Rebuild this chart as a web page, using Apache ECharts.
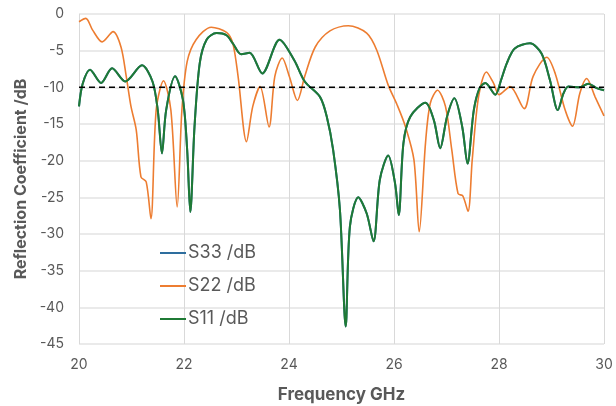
<!DOCTYPE html>
<html>
<head>
<meta charset="utf-8">
<script src="https://cdn.jsdelivr.net/npm/echarts@6/dist/echarts.min.js"></script>
<style>
  html, body { margin: 0; padding: 0; background: #fff; }
  #chart { width: 616px; height: 406px; }
</style>
</head>
<body>
<div id="chart"></div>
<script>
// frequency (GHz) / reflection (dB) pairs
const s22 = [
  [20.0, -1.05], [20.13, -0.6], [20.26, -2.2], [20.44, -3.8], [20.65, -2.4], [20.8, -4.5],
  [20.9, -8.5], [20.99, -12.6], [21.09, -15.8], [21.18, -22.2], [21.28, -22.9], [21.37, -27.9],
  [21.47, -13.1], [21.61, -9.1], [21.75, -13.1], [21.87, -26.3], [21.96, -13.1], [22.06, -6.5],
  [22.23, -3.5], [22.52, -1.8], [22.81, -2.5], [22.93, -4.0], [23.03, -8.5], [23.19, -17.4],
  [23.31, -12.6], [23.45, -9.9], [23.62, -15.4], [23.73, -8.5], [23.87, -6.0], [24.01, -8.6],
  [24.16, -11.8], [24.3, -8.5], [24.5, -4.5], [24.78, -2.3], [25.13, -1.6], [25.48, -2.6],
  [25.67, -4.9], [25.89, -9.7], [26.06, -12.4], [26.22, -15.4], [26.38, -19.9], [26.48, -29.7],
  [26.6, -17.6], [26.69, -12.2], [26.83, -10.4], [26.98, -12.6], [27.1, -18.5], [27.22, -24.5],
  [27.31, -24.8], [27.41, -26.9], [27.49, -19.9], [27.61, -11.3], [27.76, -7.9], [27.9, -9.5],
  [28.0, -11.0], [28.21, -9.9], [28.48, -12.9], [28.65, -8.5], [28.91, -5.9], [29.07, -8.1],
  [29.26, -13.1], [29.4, -15.3], [29.54, -10.8], [29.67, -8.8], [29.83, -11.3], [30.0, -13.9]
];
const s11 = [
  [20.0, -12.6], [20.07, -9.5], [20.21, -7.6], [20.42, -9.4], [20.63, -7.4], [20.88, -9.2],
  [21.2, -7.0], [21.4, -9.2], [21.5, -13.1], [21.58, -19.0], [21.66, -13.1], [21.83, -8.5],
  [21.98, -11.7], [22.06, -18.5], [22.12, -27.0], [22.2, -15.4], [22.3, -6.7], [22.43, -3.5],
  [22.62, -2.6], [22.81, -2.9], [22.93, -4.0], [23.09, -5.5], [23.25, -5.3], [23.49, -8.1],
  [23.82, -3.5], [24.1, -6.3], [24.3, -9.2], [24.59, -11.3], [24.72, -14.0], [24.84, -18.5],
  [24.97, -26.7], [25.08, -42.6], [25.16, -29.0], [25.32, -25.0], [25.48, -27.2], [25.61, -31.0],
  [25.73, -22.6], [25.89, -19.3], [26.02, -23.1], [26.09, -27.4], [26.18, -17.6], [26.31, -14.0],
  [26.6, -12.1], [26.76, -14.5], [26.88, -18.3], [27.01, -14.0], [27.15, -11.5], [27.3, -15.4],
  [27.4, -20.4], [27.52, -13.1], [27.63, -10.1], [27.74, -9.4], [27.93, -11.0], [28.04, -9.0],
  [28.15, -6.7], [28.3, -4.7], [28.59, -4.0], [28.81, -5.4], [28.97, -9.0], [29.12, -13.1],
  [29.23, -10.8], [29.32, -9.9], [29.54, -10.0], [29.7, -9.5], [29.86, -10.1], [30.0, -10.4]
];
// S33 lies under S11 in the picture
const s33 = s11.map(p => [p[0], p[1]]);
const threshold = [[20, -10], [30, -10]];

const labelColor = '#595959';
const font = 'Inter';
const chart = echarts.init(document.getElementById('chart'));
chart.setOption({
  animation: false,
  grid: { left: 79, right: 12, top: 14, bottom: 62, outerBoundsMode: 'none' },
  legend: {
    orient: 'vertical',
    left: 155,
    top: 239,
    itemWidth: 26,
    itemHeight: 2,
    itemGap: 15,
    icon: 'rect',
    textStyle: { fontSize: 18, color: labelColor, fontFamily: font, padding: [0, 0, 0, -3] },
    data: ['S33 /dB', 'S22 /dB', 'S11 /dB']
  },
  xAxis: {
    type: 'value', min: 20, max: 30, interval: 2,
    name: 'Frequency GHz', nameLocation: 'middle', nameGap: 42,
    nameTextStyle: { fontSize: 17, fontWeight: 'bold', color: labelColor, fontFamily: font },
    axisLine: { show: false }, axisTick: { show: false },
    axisLabel: { color: labelColor, fontSize: 14, margin: 14, fontFamily: font },
    splitLine: { lineStyle: { color: '#d9d9d9', width: 1 } }
  },
  yAxis: {
    type: 'value', min: -45, max: 0, interval: 5,
    name: 'Reflection Coefficient /dB', nameLocation: 'middle', nameGap: 48,
    nameTextStyle: { fontSize: 16, fontWeight: 'bold', color: labelColor, fontFamily: font },
    axisLine: { show: false }, axisTick: { show: false },
    axisLabel: { color: labelColor, fontSize: 14, margin: 15, fontFamily: font },
    splitLine: { lineStyle: { color: '#e3e3e3', width: 1.5 } }
  },
  series: [
    { name: 'S33 /dB', type: 'line', data: s33, smooth: 0.3, showSymbol: false,
      color: '#2e6e9e', lineStyle: { width: 2 } },
    { name: 'S22 /dB', type: 'line', data: s22, smooth: 0.3, showSymbol: false,
      color: '#ed7d31', lineStyle: { width: 1.6 } },
    { name: 'S11 /dB', type: 'line', data: s11, smooth: 0.3, showSymbol: false,
      color: '#1f7a35', lineStyle: { width: 2 } },
    { name: 'ref', type: 'line', data: threshold, showSymbol: false, silent: true,
      color: '#000', lineStyle: { width: 1.5, type: [6, 4] } }
  ]
});
</script>
</body>
</html>
